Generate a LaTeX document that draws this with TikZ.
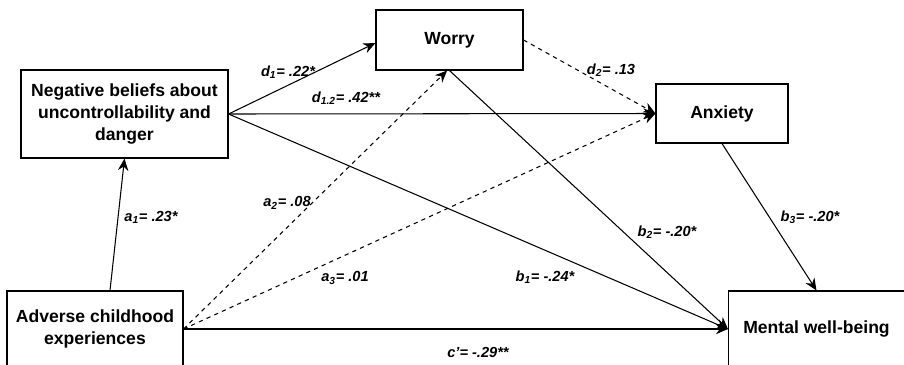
\documentclass[tikz,border=0pt]{standalone}
\usepackage{fontspec}
\setmainfont{Liberation Sans}
\usetikzlibrary{arrows.meta, calc, positioning}

\newcommand{\coef}[3]{#1\textsubscript{#2}= #3}

\begin{document}
\begin{tikzpicture}[>={Stealth[length=3mm,width=2.6mm]}, x=0.25mm, y=-0.25mm,
  var/.style={draw, line width=0.8pt, align=center, inner sep=2pt,
    font=\fontsize{12.5}{15.5}\selectfont\bfseries},
  eff/.style={->, line width=0.75pt},
  lbl/.style={font=\fontsize{10.4}{12}\selectfont\bfseries\itshape, inner sep=1pt}]
  \useasboundingbox (0,0) rectangle (904,364);
  \clip (0,0) rectangle (904,364);
  % variables
  \node[var, minimum width=51.75mm, minimum height=22mm] (NB) at (124.5,114) {Negative beliefs about\\uncontrollability and\\danger};
  \node[var, minimum width=36.75mm, minimum height=15mm] (W) at (449.5,40) {Worry};
  \node[var, minimum width=33mm, minimum height=14.75mm] (Anx) at (722,113.5) {Anxiety};
  \node[var, minimum width=44mm, minimum height=19mm] (ACE) at (95,329) {Adverse childhood\\experiences};
  \node[var, minimum width=44mm, minimum height=19mm] (MW) at (816.5,329) {Mental well-being};
  % paths
  \draw[eff] ([xshift=3.75mm]ACE.north) -- (NB.south);
  \draw[eff] (NB.east) -- ([yshift=-0.75mm]W.west);
  \draw[eff] (NB.east) -- (Anx.west);
  \draw[eff] (NB.east) -- (MW.west);
  \draw[eff, dashed] (W.east) -- (Anx.west);
  \draw[eff, dashed] (ACE.east) -- ([xshift=-0.6mm]W.south);
  \draw[eff, dashed] (ACE.east) -- (Anx.west);
  \draw[eff] (W.south) -- (MW.west);
  \draw[eff] (Anx.south) -- (MW.north);
  \draw[eff] (ACE.east) -- (MW.west);
  % coefficients
  \node[lbl] (a1) at (151,217) {\coef{a}{1}{.23*}};
  \node[lbl] (a2) at (287,203) {\coef{a}{2}{.08}};
  \node[lbl] (a3) at (345,278) {\coef{a}{3}{.01}};
  \node[lbl] (d1) at (288,72) {\coef{d}{1}{.22*}};
  \node[lbl] (d12) at (346,98) {\coef{d}{1.2}{.42**}};
  \node[lbl] (d2) at (611,70) {\coef{d}{2}{.13}};
  \node[lbl] (b1) at (545,277) {\coef{b}{1}{-.24*}};
  \node[lbl] (b2) at (667,232) {\coef{b}{2}{-.20*}};
  \node[lbl] (b3) at (810,217) {\coef{b}{3}{-.20*}};
  \node[lbl] (c) at (478,352) {c'= -.29**};
\end{tikzpicture}
\end{document}
